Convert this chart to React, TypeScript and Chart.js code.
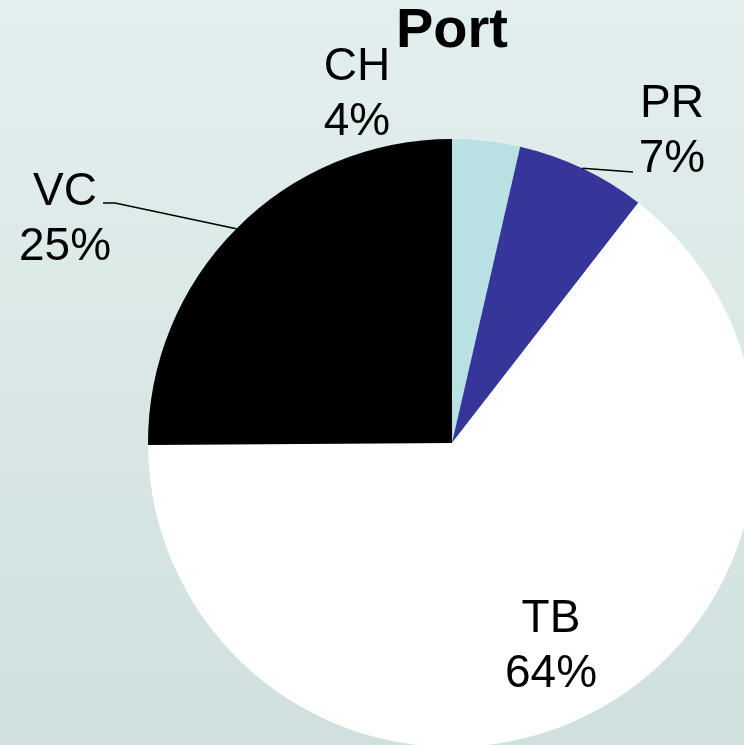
import React, { useEffect, useRef } from "react";
import { Chart, registerables } from "chart.js";

Chart.register(...registerables);

// ---- data ----
const title = "Port";
const categories = ["CH", "PR", "TB", "VC"];
const values = [3.6, 6.9, 64.4, 25.1];
const sliceColors = ["#b9e0e3", "#35359a", "#ffffff", "#000000"];

// ---- label layout (offsets from pie centre, px) ----
type LabelLayout = { dx: number; dy: number; leader?: Array<[number, number]> };
const labelLayout: LabelLayout[] = [
  { dx: -95, dy: -363 },
  { dx: 220, dy: -326, leader: [[181, -271]] },
  { dx: 99, dy: 189 },
  { dx: -387, dy: -238, leader: [[-337, -240], [-349, -240]] },
];

const CANVAS = 1000;
const RADIUS = 304;
const CENTER_X = 452;
const CENTER_Y = 443;

const labelPlugin = {
  id: "pieLabels",
  afterDraw(chart: any) {
    const ctx = chart.ctx as CanvasRenderingContext2D;
    const meta = chart.getDatasetMeta(0);
    const total = values.reduce((a, b) => a + b, 0);
    const fontFamily = '"Liberation Sans", Arial, Helvetica, sans-serif';
    ctx.save();
    ctx.fillStyle = "#000";
    ctx.strokeStyle = "#000";
    ctx.lineWidth = 1.5;
    meta.data.forEach((arc: any, i: number) => {
      const p = arc.getProps(["x", "y", "startAngle", "endAngle", "outerRadius"], true);
      const mid = (p.startAngle + p.endAngle) / 2;
      const layout = labelLayout[i];
      if (layout.leader) {
        ctx.beginPath();
        ctx.moveTo(p.x + p.outerRadius * Math.cos(mid), p.y + p.outerRadius * Math.sin(mid));
        layout.leader.forEach(([lx, ly]) => ctx.lineTo(p.x + lx, p.y + ly));
        ctx.stroke();
      }
      const pct = Math.round((values[i] / total) * 100) + "%";
      ctx.font = "46px " + fontFamily;
      ctx.textAlign = "center";
      ctx.textBaseline = "alphabetic";
      ctx.fillText(categories[i], p.x + layout.dx, p.y + layout.dy);
      ctx.fillText(pct, p.x + layout.dx, p.y + layout.dy + 55);
    });
    // title
    const arc0 = meta.data[0];
    ctx.font = "bold 56px " + fontFamily;
    ctx.textAlign = "center";
    ctx.fillText(title, arc0.x, arc0.y - 396);
    ctx.restore();
  },
};

export default function App() {
  const canvasRef = useRef<HTMLCanvasElement | null>(null);

  useEffect(() => {
    if (!canvasRef.current) return;
    const pad = CANVAS / 2 - RADIUS;
    const chart = new Chart(canvasRef.current, {
      type: "pie",
      data: {
        labels: categories,
        datasets: [
          {
            data: values,
            backgroundColor: sliceColors,
            borderWidth: 0,
          },
        ],
      },
      options: {
        responsive: false,
        animation: false,
        layout: { padding: pad },
        plugins: {
          legend: { display: false },
          tooltip: { enabled: false },
          title: { display: false },
        },
      },
      plugins: [labelPlugin],
    });
    return () => chart.destroy();
  }, []);

  return (
    <div
      style={{
        position: "fixed",
        left: 0,
        top: 0,
        width: 744,
        height: 745,
        overflow: "hidden",
        background: "linear-gradient(to bottom, #e3efee, #cfe0de)",
      }}
    >
      <canvas
        ref={canvasRef}
        width={CANVAS}
        height={CANVAS}
        style={{
          position: "absolute",
          left: CENTER_X - CANVAS / 2,
          top: CENTER_Y - CANVAS / 2,
          width: CANVAS,
          height: CANVAS,
        }}
      />
    </div>
  );
}
